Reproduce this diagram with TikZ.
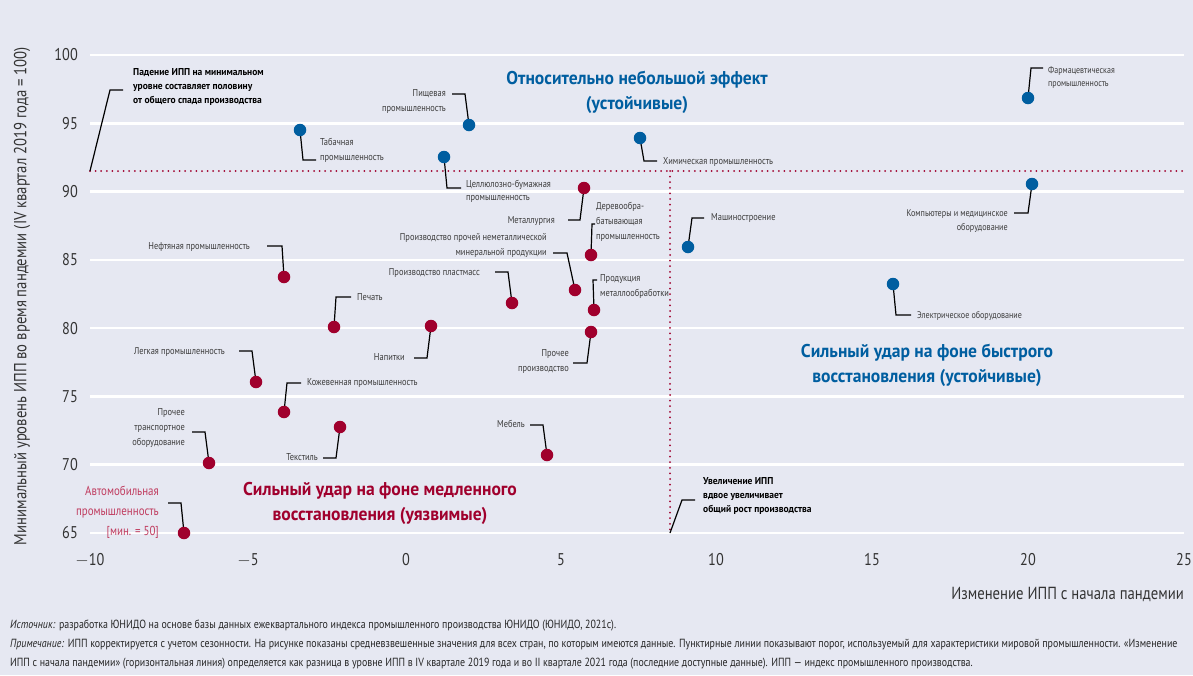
\documentclass[tikz,border=0pt]{standalone}
\usepackage{fontspec}
\setmainfont{PT Sans}[FakeStretch=0.84]
\newfontfamily\widefont{PT Sans}[FakeStretch=0.95]
\definecolor{bg}{RGB}{230,232,242}
\definecolor{ublue}{RGB}{0,94,160}
\definecolor{ured}{RGB}{160,0,45}
\definecolor{lblgray}{RGB}{60,60,60}
\definecolor{autored}{RGB}{192,60,95}
\begin{document}
\begin{tikzpicture}[x=1pt,y=-1pt,
  dot/.style={circle, inner sep=0pt, minimum size=12.5pt},
  bdot/.style={dot, fill=ublue},
  rdot/.style={dot, fill=ured},
  conn/.style={draw=black, line width=1.2pt},
  lbl/.style={inner sep=0pt, font=\fontsize{10}{15}\selectfont, text=lblgray, yshift=5pt},
  lL/.style={lbl, anchor=north west, align=left},
  lR/.style={lbl, anchor=north east, align=right},
  note/.style={inner sep=0pt, font=\widefont\bfseries\fontsize{10}{14}\selectfont, anchor=north west, align=left, yshift=5pt},
  ttl/.style={inner sep=0pt, font=\widefont\bfseries\fontsize{18.5}{25}\selectfont, anchor=north, align=center, yshift=8pt},
  grid/.style={draw=white, line width=2.5pt},
  thr/.style={draw=ured, line width=2pt, line cap=round, dash pattern=on 0pt off 5.6pt},
  tick/.style={inner sep=0pt, font=\fontsize{17}{17}\selectfont, text=black!80},
]
\fill[bg] (0,0) rectangle (1193,675);
\useasboundingbox (0,0) rectangle (1193,675);
% grid
\foreach \yy in {55,123.3,191.6,259.9,328.1,396.4,464.7,533} \draw[grid] (90,\yy) -- (1184,\yy);
% y ticks
\foreach \yy/\t in {55/100,123.3/95,191.6/90,259.9/85,328.1/80,396.4/75,464.7/70,533/65}
  \node[tick, anchor=east] at (78,\yy) {\t};
% x ticks
\foreach \xx/\t in {90/$-$10,248/$-$5,406/0,561/5,716/10,872/15,1028/20,1184/25}
  \node[tick] at (\xx,560) {\t};
\node[inner sep=0pt, font=\fontsize{17.5}{17.5}\selectfont, text=black!80, anchor=east] (xt) at (1184,594) {Изменение ИПП с начала пандемии};
\node[inner sep=0pt, font=\fontsize{17.5}{17.5}\selectfont, text=black!80, rotate=90] (yt) at (22,296) {Минимальный уровень ИПП во время пандемии (IV квартал 2019 года = 100)};
% thresholds
\coordinate (thrL) at (90,171);
\coordinate (thrR) at (1184,171);
\coordinate (thrT) at (670,171);
\coordinate (thrB) at (670,533);
\draw[thr] (thrL) -- (thrR);
\draw[thr] (thrT) -- (thrB);
% titles
\node[ttl, text=ublue] (t1) at (637,79) {Относительно небольшой эффект\\(устойчивые)};
\node[ttl, text=ublue] (t2) at (927,352) {Сильный удар на фоне быстрого\\восстановления (устойчивые)};
\node[ttl, text=ured] (t3) at (380,490) {Сильный удар на фоне медленного\\восстановления (уязвимые)};
% notes
\node[note] (n1) at (133,73) {Падение ИПП на минимальном\\уровне составляет половину\\от общего спада производства};
\coordinate (n1c) at (123,90);
\draw[conn] (thrL) -- (110,90) -- (n1c);
\node[note] (n2) at (703,482) {Увеличение ИПП\\вдвое увеличивает\\общий рост производства};
\coordinate (n2c) at (695,500);
\draw[conn] (thrB) -- (682,500) -- (n2c);
% ---- blue points
\node[lL] (lTab) at (320,143) {Табачная\\промышленность};
\coordinate (cTab) at (316,160);
\draw[conn] (300,130) -- (303,160) -- (cTab);
\node[bdot] (dTab) at (300,130) {};

\node[lR] (lPish) at (446,94) {Пищевая\\промышленность};
\coordinate (cPish) at (452,94);
\draw[conn] (cPish) -- (465,94) -- (469,125);
\node[bdot] (dPish) at (469,125) {};

\node[lL, font=\fontsize{10}{13.5}\selectfont] (lCell) at (466,185) {Целлюлозно-бумажная\\промышленность};
\coordinate (cCell) at (461,188);
\draw[conn] (444,157) -- (447,188) -- (cCell);
\node[bdot] (dCell) at (444,157) {};

\node[lL] (lChem) at (663,162) {Химическая промышленность};
\coordinate (cChem) at (657,161);
\draw[conn] (640,138) -- (644,161) -- (cChem);
\node[bdot] (dChem) at (640,138) {};

\node[lL] (lMash) at (711,218) {Машиностроение};
\coordinate (cMash) at (704,218);
\draw[conn] (688,247) -- (692,218) -- (cMash);
\node[bdot] (dMash) at (688,247) {};

\node[lL, font=\fontsize{9.5}{13.5}\selectfont] (lFarm) at (1048,71) {Фармацевтическая\\промышленность};
\coordinate (cFarm) at (1043,68);
\draw[conn] (1028,98) -- (1031,68) -- (cFarm);
\node[bdot] (dFarm) at (1028,98) {};

\node[lR, font=\fontsize{9.7}{14}\selectfont] (lComp) at (1008,215) {Компьютеры и медицинское\\оборудование};
\coordinate (cComp) at (1014,213);
\draw[conn] (1032,184) -- (1028,213) -- (cComp);
\node[bdot] (dComp) at (1032,184) {};

\node[lL, font=\fontsize{9.6}{13.5}\selectfont] (lElec) at (917,316) {Электрическое оборудование};
\coordinate (cElec) at (911,315);
\draw[conn] (893,284) -- (896,315) -- (cElec);
\node[bdot] (dElec) at (893,284) {};
% ---- red points
\node[lR] (lNeft) at (250,247) {Нефтяная промышленность};
\coordinate (cNeft) at (267,246);
\draw[conn] (cNeft) -- (282,246) -- (284,277);
\node[rdot] (dNeft) at (284,277) {};

\node[lL] (lPech) at (357,298) {Печать};
\coordinate (cPech) at (351,297);
\draw[conn] (334,327) -- (336,297) -- (cPech);
\node[rdot] (dPech) at (334,327) {};

\node[lR] (lLegk) at (225,352) {Легкая промышленность};
\coordinate (cLegk) at (239,351);
\draw[conn] (cLegk) -- (252,351) -- (256,382);
\node[rdot] (dLegk) at (256,382) {};

\node[lL] (lKozh) at (307,383) {Кожевенная промышленность};
\coordinate (cKozh) at (301,383);
\draw[conn] (284,412) -- (287,383) -- (cKozh);
\node[rdot] (dKozh) at (284,412) {};

\node[lR] (lTrans) at (185,413) {Прочее\\транспортное\\оборудование};
\coordinate (cTrans) at (192,432);
\draw[conn] (cTrans) -- (205,432) -- (209,463);
\node[rdot] (dTrans) at (209,463) {};

\node[lR] (lText) at (318,458) {Текстиль};
\coordinate (cText) at (323,458);
\draw[conn] (cText) -- (336,458) -- (340,427);
\node[rdot] (dText) at (340,427) {};

\node[lR, font=\fontsize{13}{20}\selectfont, text=autored, yshift=2pt] (lAuto) at (159,493) {Автомобильная\\промышленность\\ {[}мин. = 50{]}};
\coordinate (cAuto) at (168,503);
\draw[conn] (cAuto) -- (181,503) -- (184,533);
\node[rdot] (dAuto) at (184,533) {};

\node[lR] (lNap) at (405,358) {Напитки};
\coordinate (cNap) at (414,358);
\draw[conn] (cNap) -- (427,358) -- (431,326);
\node[rdot] (dNap) at (431,326) {};

\node[lR] (lPlast) at (480,273) {Производство пластмасс};
\coordinate (cPlast) at (495,272);
\draw[conn] (cPlast) -- (508,272) -- (512,303);
\node[rdot] (dPlast) at (512,303) {};

\node[lR] (lMetal) at (555,221) {Металлургия};
\coordinate (cMetal) at (568,220);
\draw[conn] (cMetal) -- (580,220) -- (584,188);
\node[rdot] (dMetal) at (584,188) {};

\node[lL] (lDer) at (596,207) {Деревообра-\\батывающая\\промышленность};
\coordinate (cDer) at (595,224);
\draw[conn] (591,255) -- (592,224) -- (cDer);
\node[rdot] (dDer) at (591,255) {};

\node[lR] (lNemet) at (547,238) {Производство прочей неметаллической\\минеральной продукции};
\coordinate (cNemet) at (553,253);
\draw[conn] (cNemet) -- (567,253) -- (575,290);
\node[rdot] (dNemet) at (575,290) {};

\node[lL] (lMetobr) at (600,279) {Продукция\\металлообработки};
\coordinate (cMetobr) at (597,280);
\draw[conn] (594,310) -- (593,280) -- (cMetobr);
\node[rdot] (dMetobr) at (594,310) {};

\node[lR] (lProch) at (569,354) {Прочее\\производство};
\coordinate (cProch) at (573,363);
\draw[conn] (cProch) -- (587,363) -- (591,332);
\node[rdot] (dProch) at (591,332) {};

\node[lR] (lMebel) at (525,425) {Мебель};
\coordinate (cMebel) at (530,425);
\draw[conn] (cMebel) -- (543,425) -- (547,455);
\node[rdot] (dMebel) at (547,455) {};
% footnotes
\begin{scope}[every node/.style={inner sep=0pt, anchor=west, font=\fontsize{11.8}{11.8}\selectfont, text=black!85}]
\node (f1) at (10,626) {\textit{Источник:} разработка ЮНИДО на основе базы данных ежеквартального индекса промышленного производства ЮНИДО (ЮНИДО, 2021c).};
\node (f2) at (10,645) {\textit{Примечание:} ИПП корректируется с учетом сезонности. На рисунке показаны средневзвешенные значения для всех стран, по которым имеются данные. Пунктирные линии показывают порог, используемый для характеристики мировой промышленности. «Изменение};
\node (f3) at (10,664) {ИПП с начала пандемии» (горизонтальная линия) определяется как разница в уровне ИПП в IV квартале 2019 года и во II квартале 2021 года (последние доступные данные). ИПП — индекс промышленного производства.};
\end{scope}
\end{tikzpicture}
\end{document}
